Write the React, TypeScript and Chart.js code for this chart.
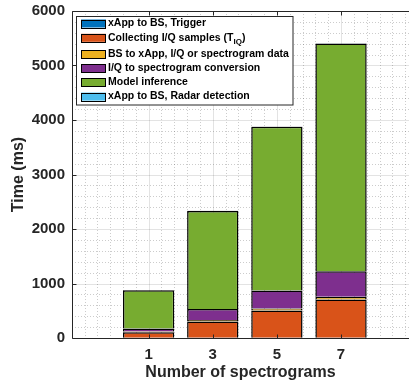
import { useEffect, useRef } from "react";
import { Chart, registerables } from "chart.js";

Chart.register(...registerables);

// Number of spectrograms per request (x positions of the stacked bars)
const spectrogramCounts = [1, 3, 5, 7];

// Latency components in milliseconds, bottom to top of each stack
const triggerMs = [5, 5, 5, 5];
const collectMs = [100, 300, 500, 700];
const transferMs = [15, 25, 35, 50];
const conversionMs = [55, 200, 330, 470];
const inferenceMs = [700, 1800, 3005, 4180];
const radarMs = [5, 5, 5, 5];

// "_IQ" marks a subscript in the legend text
const seriesLabels = [
  "xApp to BS, Trigger",
  "Collecting I/Q samples (T_IQ)",
  "BS to xApp, I/Q or spectrogram data",
  "I/Q to spectrogram conversion",
  "Model inference",
  "xApp to BS, Radar detection",
];
const seriesColors = ["#0072BD", "#D95319", "#EDB120", "#7E2F8E", "#77AC30", "#4DBEEE"];
const seriesValues = [triggerMs, collectMs, transferMs, conversionMs, inferenceMs, radarMs];

const yTicks = [0, 1000, 2000, 3000, 4000, 5000, 6000];

const FONT = '"Liberation Sans", Arial, Helvetica, sans-serif';
const INK = "#262626";

const px = (v: number) => Math.round(v) + 0.5;

const axesPlugin = {
  id: "boxedAxes",
  beforeDatasetsDraw(chart: any) {
    const { ctx, chartArea: a, scales } = chart;
    const x = scales.x;
    const y = scales.y;
    ctx.save();
    ctx.beginPath();
    ctx.rect(a.left, a.top, a.right - a.left, a.bottom - a.top);
    ctx.clip();
    ctx.lineWidth = 1;

    // minor dotted grid
    ctx.setLineDash([1, 2]);
    ctx.strokeStyle = "rgba(0,0,0,0.2)";
    for (let v = 200; v < 6000; v += 200) {
      if (v % 1000 === 0) continue;
      const p = px(y.getPixelForValue(v));
      ctx.beginPath();
      ctx.moveTo(a.left, p);
      ctx.lineTo(a.right, p);
      ctx.stroke();
    }
    for (let k = -8; k <= 25; k++) {
      if (k % 5 === 0 && k >= 0 && k <= 15) continue;
      const v = 1 + 0.4 * k;
      if (v <= x.min || v >= x.max) continue;
      const p = px(x.getPixelForValue(v));
      ctx.beginPath();
      ctx.moveTo(p, a.top);
      ctx.lineTo(p, a.bottom);
      ctx.stroke();
    }

    // major solid grid
    ctx.setLineDash([]);
    ctx.strokeStyle = "rgba(0,0,0,0.11)";
    for (const v of yTicks) {
      const p = px(y.getPixelForValue(v));
      ctx.beginPath();
      ctx.moveTo(a.left, p);
      ctx.lineTo(a.right, p);
      ctx.stroke();
    }
    for (const v of spectrogramCounts) {
      const p = px(x.getPixelForValue(v));
      ctx.beginPath();
      ctx.moveTo(p, a.top);
      ctx.lineTo(p, a.bottom);
      ctx.stroke();
    }
    ctx.restore();
  },
  afterDatasetsDraw(chart: any) {
    const { ctx, chartArea: a, scales } = chart;
    const x = scales.x;
    const y = scales.y;
    ctx.save();
    ctx.strokeStyle = INK;
    ctx.lineWidth = 1;
    const L = px(a.left);
    const B = px(a.bottom);
    const T = px(a.top);
    ctx.beginPath();
    ctx.moveTo(L, T);
    ctx.lineTo(L, B);
    ctx.lineTo(a.right + 1, B);
    ctx.moveTo(L, T);
    ctx.lineTo(a.right + 1, T);
    ctx.stroke();
    // inward tick marks
    ctx.beginPath();
    for (const v of yTicks) {
      const p = px(y.getPixelForValue(v));
      ctx.moveTo(L, p);
      ctx.lineTo(L + 4, p);
    }
    for (const v of spectrogramCounts) {
      const p = px(x.getPixelForValue(v));
      ctx.moveTo(p, B);
      ctx.lineTo(p, B - 4);
      ctx.moveTo(p, T);
      ctx.lineTo(p, T + 4);
    }
    ctx.stroke();
    ctx.restore();
  },
  afterDraw(chart: any) {
    const { ctx } = chart;
    const datasets = chart.data.datasets;
    const boxL = 76.5;
    const boxT = 16.5;
    const boxW = 216.5;
    const boxH = 88.5;
    const rowY = [23.5, 37.8, 54, 68.2, 82.4, 96.6];
    ctx.save();
    ctx.fillStyle = "#ffffff";
    ctx.fillRect(boxL, boxT, boxW, boxH);
    ctx.strokeStyle = INK;
    ctx.lineWidth = 1;
    ctx.strokeRect(boxL, boxT, boxW, boxH);
    ctx.textBaseline = "middle";
    ctx.textAlign = "left";
    datasets.forEach((ds: any, i: number) => {
      const cy = rowY[i];
      ctx.fillStyle = ds.backgroundColor;
      ctx.fillRect(81, cy - 4, 25, 8);
      ctx.strokeStyle = "#000";
      ctx.strokeRect(81.5, Math.round(cy - 4) + 0.5, 24, 8);
      ctx.fillStyle = "#000";
      ctx.font = `bold 10.5px ${FONT}`;
      const label: string = ds.label;
      const m = label.match(/^(.*)_([A-Za-z]+)(.*)$/);
      if (m) {
        let tx = 108;
        ctx.fillText(m[1], tx, cy);
        tx += ctx.measureText(m[1]).width;
        ctx.font = `bold 8px ${FONT}`;
        ctx.fillText(m[2], tx, cy + 3.5);
        tx += ctx.measureText(m[2]).width;
        ctx.font = `bold 10.5px ${FONT}`;
        ctx.fillText(m[3], tx, cy);
      } else {
        ctx.fillText(label, 108, cy);
      }
    });
    ctx.restore();
  },
};

export default function App() {
  const canvasRef = useRef<HTMLCanvasElement | null>(null);

  useEffect(() => {
    const canvas = canvasRef.current;
    if (!canvas) return;
    const chart = new Chart(canvas, {
      type: "bar",
      data: {
        datasets: seriesValues.map((vals, i) => ({
          label: seriesLabels[i],
          data: spectrogramCounts.map((c, j) => ({ x: c, y: vals[j] })),
          backgroundColor: seriesColors[i],
          borderColor: "#000000",
          borderWidth: { top: 1.5, left: 1.5, right: 1.5, bottom: 0 },
          borderSkipped: false,
          barPercentage: 0.8,
          categoryPercentage: 1,
        })),
      },
      options: {
        animation: false,
        responsive: false,
        maintainAspectRatio: false,
        layout: { padding: { top: 11, right: 0, left: 0, bottom: 0 } },
        plugins: { legend: { display: false }, tooltip: { enabled: false } },
        scales: {
          x: {
            type: "linear",
            stacked: true,
            offset: false,
            min: -1.39,
            max: 9.12,
            afterBuildTicks: (s: any) => {
              s.ticks = spectrogramCounts.map((v) => ({ value: v }));
            },
            afterFit: (s: any) => {
              s.height = 48;
              s.paddingLeft = 0;
              s.paddingRight = 0;
            },
            ticks: {
              autoSkip: false,
              maxRotation: 0,
              padding: 8,
              color: INK,
              font: { family: FONT, size: 15, weight: "bold" },
              callback: (v: any) => String(v),
            },
            grid: { display: false, drawTicks: false },
            border: { display: false },
            title: {
              display: true,
              text: "Number of spectrograms",
              color: INK,
              font: { family: FONT, size: 16, weight: "bold" },
              padding: { top: 0, bottom: 4 },
            },
          },
          y: {
            stacked: true,
            min: 0,
            max: 6000,
            afterBuildTicks: (s: any) => {
              s.ticks = yTicks.map((v) => ({ value: v }));
            },
            afterFit: (s: any) => {
              s.width = 72;
              s.paddingTop = 0;
              s.paddingBottom = 0;
            },
            ticks: {
              padding: 7,
              color: INK,
              font: { family: FONT, size: 15, weight: "bold" },
              callback: (v: any) => String(v),
            },
            grid: { display: false, drawTicks: false },
            border: { display: false },
            title: {
              display: true,
              text: "Time (ms)",
              color: INK,
              font: { family: FONT, size: 16, weight: "bold" },
              padding: { top: 9, bottom: 0 },
            },
          },
        },
      },
      plugins: [axesPlugin],
    } as any);
    return () => chart.destroy();
  }, []);

  return (
    <div style={{ position: "fixed", left: 0, top: 0, width: 409, height: 386, background: "#fff" }}>
      <canvas ref={canvasRef} width={409} height={386} style={{ display: "block" }} />
    </div>
  );
}
